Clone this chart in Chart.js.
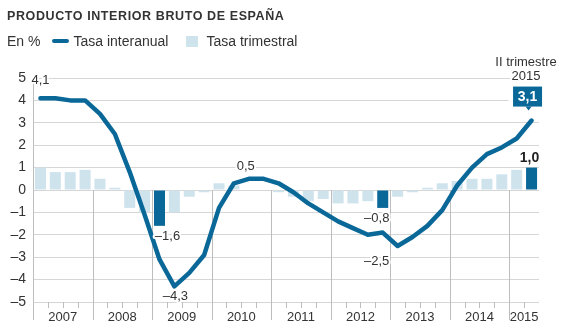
<!DOCTYPE html>
<html lang="es">
<head>
<meta charset="utf-8">
<title>Producto interior bruto de España</title>
<script src="https://cdn.jsdelivr.net/npm/chart.js@4.4.1/dist/chart.umd.min.js"></script>
<style>
  html, body { margin: 0; padding: 0; background: #fff; }
  body { width: 564px; height: 334px; position: relative; overflow: hidden;
         font-family: "Liberation Sans", Arial, sans-serif; color: #333; }
  #grafico { position: absolute; left: 0; top: 0; }
  #titulo { position: absolute; left: 7px; top: 9px; font-size: 12.5px; font-weight: bold;
            letter-spacing: 0.6px; white-space: nowrap; }
  #leyenda { position: absolute; left: 7px; top: 33px; font-size: 14px; display: flex;
             align-items: center; white-space: nowrap; }
  .linea { width: 17px; height: 4px; border-radius: 2px; background: #0a6899; margin: 0 4px 0 12px; }
  .cuadro { width: 12px; height: 11px; background: #cfe3ed; margin: 0 8px 0 18px; }
</style>
</head>
<body>
<canvas id="grafico" width="564" height="334"></canvas>
<div id="titulo">PRODUCTO INTERIOR BRUTO DE ESPAÑA</div>
<div id="leyenda">
  <span>En %</span>
  <span class="linea"></span><span>Tasa interanual</span>
  <span class="cuadro"></span><span>Tasa trimestral</span>
</div>
<script>
// Trimestres de 2007-I a 2015-II
const trimestres = [
  '2007-I', '2007-II', '2007-III', '2007-IV',
  '2008-I', '2008-II', '2008-III', '2008-IV',
  '2009-I', '2009-II', '2009-III', '2009-IV',
  '2010-I', '2010-II', '2010-III', '2010-IV',
  '2011-I', '2011-II', '2011-III', '2011-IV',
  '2012-I', '2012-II', '2012-III', '2012-IV',
  '2013-I', '2013-II', '2013-III', '2013-IV',
  '2014-I', '2014-II', '2014-III', '2014-IV',
  '2015-I', '2015-II'
];
const anios = ['2007', '2008', '2009', '2010', '2011', '2012', '2013', '2014', '2015'];

const tasaInteranual = [
  4.1, 4.1, 4.0, 4.0,
  3.4, 2.5, 0.8, -1.1,
  -3.1, -4.3, -3.7, -2.9,
  -0.8, 0.3, 0.5, 0.5,
  0.3, -0.1, -0.6, -1.0,
  -1.4, -1.7, -2.0, -1.9,
  -2.5, -2.1, -1.6, -0.9,
  0.2, 1.0, 1.6, 1.9,
  2.3, 3.1
];
const tasaTrimestral = [
  1.0, 0.8, 0.8, 0.9,
  0.5, 0.1, -0.8, -1.0,
  -1.6, -1.0, -0.3, -0.1,
  0.3, 0.2, 0.0, 0.0,
  -0.1, -0.3, -0.5, -0.4,
  -0.6, -0.6, -0.5, -0.8,
  -0.3, -0.1, 0.1, 0.3,
  0.4, 0.5, 0.5, 0.7,
  0.9, 1.0
];
const destacados = ['2009-I', '2012-IV', '2015-II'];

const AZUL = '#0a6899';
const CLARO = '#cfe3ed';
const TEXTO = '#333';
const FUENTE = '"Liberation Sans", Arial, sans-serif';

// 4,1 -> "4,1" ; -1,6 -> "–1,6"
const fmt = v => (v < 0 ? '\u2013' : '') + Math.abs(v).toFixed(1).replace('.', ',');

// etiquetas de valor: serie, trimestre, desplazamiento respecto al punto
const etiquetas = [
  { serie: 'linea', t: '2007-I', dx: 0, dy: -18 },
  { serie: 'barra', t: '2009-I', dx: 8, dy: 11 },
  { serie: 'linea', t: '2009-II', dx: 1, dy: 10 },
  { serie: 'linea', t: '2010-III', dx: -3, dy: -12 },
  { serie: 'barra', t: '2012-IV', dx: -6, dy: 11 },
  { serie: 'linea', t: '2013-I', dx: -21, dy: 15 },
  { serie: 'barra', t: '2015-II', dx: -2, dy: -9, negrita: true }
];

function textoConHalo(ctx, txt, x, y, font, color) {
  ctx.font = font;
  ctx.textAlign = 'center';
  ctx.textBaseline = 'middle';
  ctx.lineJoin = 'round';
  ctx.lineWidth = 4;
  ctx.strokeStyle = '#fff';
  ctx.strokeText(txt, x, y);
  ctx.fillStyle = color;
  ctx.fillText(txt, x, y);
}

// separadores de año y marcas de trimestre
const separadores = {
  id: 'separadores',
  beforeDatasetsDraw(chart) {
    const { ctx, chartArea, scales: { x, y } } = chart;
    const paso = x.width / trimestres.length;
    const y0 = y.getPixelForValue(0);
    ctx.save();
    ctx.strokeStyle = '#bdbdbd';
    ctx.lineWidth = 1;
    trimestres.forEach((t, i) => {
      const px = Math.round(x.getPixelForValue(i) - paso / 2) + 0.5;
      ctx.beginPath();
      if (i % 4 === 0) {
        ctx.moveTo(px, i === 0 ? chartArea.bottom : y0);
        ctx.lineTo(px, chartArea.bottom + 18);
      } else {
        ctx.moveTo(px, chartArea.bottom);
        ctx.lineTo(px, chartArea.bottom + 6);
      }
      ctx.stroke();
    });
    ctx.restore();
  }
};

const anotaciones = {
  id: 'anotaciones',
  afterDatasetsDraw(chart) {
    const { ctx, scales: { x, y } } = chart;
    ctx.save();
    etiquetas.forEach(e => {
      const i = trimestres.indexOf(e.t);
      const v = e.serie === 'linea' ? tasaInteranual[i] : tasaTrimestral[i];
      const font = (e.negrita ? 'bold 14px ' : '13px ') + FUENTE;
      textoConHalo(ctx, fmt(v), x.getPixelForValue(i) + e.dx, y.getPixelForValue(v) + e.dy, font, e.negrita ? '#222' : TEXTO);
    });

    // último dato de la tasa interanual, en recuadro
    const n = trimestres.length - 1;
    const px = x.getPixelForValue(n);
    const py = y.getPixelForValue(tasaInteranual[n]);
    const cx = px - 4, cy = py - 24;
    ctx.fillStyle = '#fff';
    ctx.fillRect(cx - 19, cy - 14, 38, 28);
    ctx.fillStyle = AZUL;
    ctx.fillRect(cx - 14.5, cy - 10, 29, 20);
    ctx.beginPath();
    ctx.moveTo(cx - 2, cy + 10);
    ctx.lineTo(cx + 4, cy + 10);
    ctx.lineTo(cx + 1, cy + 14);
    ctx.closePath();
    ctx.fill();
    ctx.font = 'bold 14px ' + FUENTE;
    ctx.textAlign = 'center';
    ctx.textBaseline = 'middle';
    ctx.fillStyle = '#fff';
    ctx.fillText(fmt(tasaInteranual[n]), cx, cy + 1);

    textoConHalo(ctx, 'II trimestre', px - 5.5, cy - 34, '13px ' + FUENTE, TEXTO);
    textoConHalo(ctx, anios[anios.length - 1], px - 5.5, cy - 20, '13px ' + FUENTE, TEXTO);
    ctx.restore();
  }
};

new Chart(document.getElementById('grafico'), {
  type: 'bar',
  data: {
    labels: trimestres,
    datasets: [
      {
        type: 'line',
        label: 'Tasa interanual',
        data: tasaInteranual,
        borderColor: AZUL,
        borderWidth: 4.5,
        borderJoinStyle: 'round',
        borderCapStyle: 'round',
        pointRadius: 0,
        tension: 0,
        order: 0
      },
      {
        type: 'bar',
        label: 'Tasa trimestral',
        data: tasaTrimestral,
        backgroundColor: c => destacados.includes(trimestres[c.dataIndex]) ? AZUL : CLARO,
        barPercentage: 0.74,
        categoryPercentage: 1,
        order: 1
      }
    ]
  },
  options: {
    responsive: false,
    animation: false,
    layout: { padding: { top: 78, right: 25, bottom: 0, left: 0 } },
    plugins: { legend: { display: false }, tooltip: { enabled: false } },
    scales: {
      x: {
        grid: { display: false },
        border: { display: false },
        ticks: {
          autoSkip: false,
          maxRotation: 0,
          padding: 0,
          labelOffset: 7.44,
          color: TEXTO,
          font: { family: FUENTE, size: 13 },
          // año centrado bajo sus trimestres
          callback: (v, i) => {
            const [a, q] = trimestres[i].split('-');
            if (a === '2015') return q === 'I' ? a : '';
            return q === 'II' ? a : '';
          }
        },
        afterFit: s => { s.height = 32; }
      },
      y: {
        min: -5,
        max: 5,
        grid: { color: '#d6d6d6', drawTicks: false },
        border: { color: '#bdbdbd' },
        ticks: {
          stepSize: 1,
          padding: 7,
          color: TEXTO,
          font: { family: FUENTE, size: 14 },
          callback: v => (v < 0 ? '\u2013' : '') + Math.abs(v)
        },
        afterFit: s => { s.width = 33; }
      }
    }
  },
  plugins: [separadores, anotaciones]
});
</script>
</body>
</html>
